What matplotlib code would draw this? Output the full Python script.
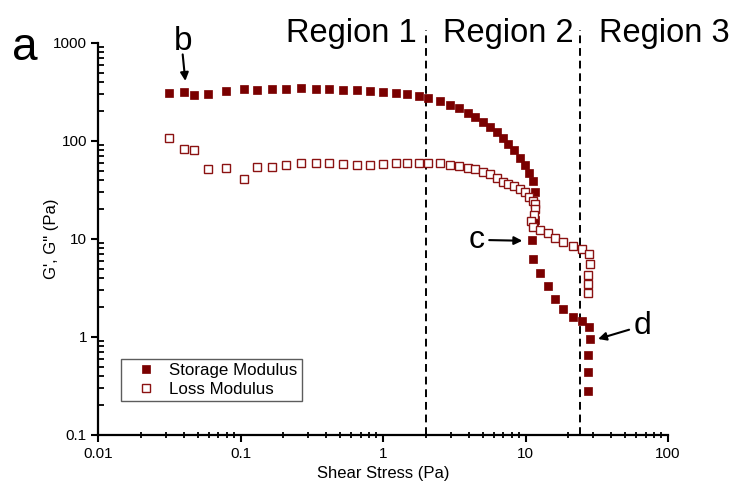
import matplotlib
matplotlib.use('Agg')
import matplotlib.pyplot as plt
from matplotlib.ticker import LogLocator, NullFormatter, FixedFormatter, FixedLocator

plt.rcParams['font.family'] = ['Liberation Sans', 'DejaVu Sans']

# storage modulus G' (filled squares)
stress_storage = [0.0315, 0.0403, 0.0472, 0.059, 0.0795, 0.105, 0.130, 0.166, 0.209, 0.267,
                  0.337, 0.418, 0.521, 0.654, 0.810, 1.005, 1.23, 1.48, 1.78, 2.08,
                  2.51, 2.94, 3.41, 3.93, 4.44, 5.01, 5.64, 6.28, 6.92, 7.57,
                  8.30, 9.10, 9.91, 10.5, 11.3, 11.7, 11.7, 11.4, 11.05, 11.35,
                  12.6, 14.3, 16.1, 18.4, 21.4, 24.8, 27.9, 28.2, 27.6, 27.5, 27.6]
storage = [307, 318, 294, 302, 321, 340, 334, 340, 340, 345,
           340, 340, 334, 329, 324, 318, 311, 302, 288, 273,
           256, 235, 216, 195, 175, 156, 138, 123, 107, 93,
           80, 67.6, 57.3, 47.5, 39.1, 30.4, 15.6, 13.9, 9.77, 6.3,
           4.47, 3.29, 2.43, 1.92, 1.61, 1.46, 1.27, 0.955, 0.66, 0.44, 0.283]

# loss modulus G'' (open squares)
stress_loss = [0.0315, 0.0403, 0.0472, 0.059, 0.0795, 0.105, 0.130, 0.166, 0.209, 0.267,
               0.337, 0.418, 0.521, 0.654, 0.810, 1.005, 1.23, 1.48, 1.78, 2.08,
               2.51, 2.94, 3.41, 3.93, 4.44, 5.01, 5.64, 6.28, 6.92, 7.57,
               8.30, 9.10, 9.91, 10.5, 11.3, 11.7, 11.6, 11.4, 11.0, 11.3,
               12.6, 14.3, 16.1, 18.4, 21.4, 24.9, 27.7, 28.2, 27.5, 27.4, 27.6]
loss = [107, 82.3, 80.4, 51.4, 53.4, 41.0, 54.3, 53.9, 56.9, 59.2,
        59.7, 59.2, 58.2, 57.3, 56.9, 58.7, 59.2, 59.2, 59.7, 60.1,
        59.2, 57.3, 55.6, 53.4, 51.8, 48.6, 45.7, 41.6, 38.2, 36.7,
        35.0, 32.6, 30.0, 26.7, 24.3, 22.9, 20.1, 17.5, 15.1, 13.3,
        12.4, 11.4, 10.2, 9.31, 8.55, 7.94, 7.00, 5.62, 4.32, 3.47, 2.83]

region_bounds = [2.0, 24.0]
region_labels = ['Region 1', 'Region 2', 'Region 3']
region_label_x = [351, 508, 664]  # pixel centres

xticks = [0.01, 0.1, 1, 10, 100]
xtick_labels = ['0.01', '0.1', '1', '10', '100']
yticks = [0.1, 1, 10, 100, 1000]
ytick_labels = ['0.1', '1', '10', '100', '1000']

W, H = 735, 491
fig = plt.figure(figsize=(W / 100, H / 100), dpi=100)
ax = fig.add_axes([98 / W, 1 - 435 / H, (668 - 98) / W, (435 - 43) / H])

red = '#7a0000'
ax.plot(stress_storage, storage, 's', ms=6.0, color=red, mec=red, mew=0.5,
        label='Storage Modulus', zorder=3)
ax.plot(stress_loss, loss, 's', ms=5.6, mfc='white', mec='#8b1212', mew=1.0,
        label='Loss Modulus', zorder=4)

ax.set_xscale('log')
ax.set_yscale('log')
ax.set_xlim(0.01, 100)
ax.set_ylim(0.1, 1000)

ax.xaxis.set_major_locator(FixedLocator(xticks))
ax.xaxis.set_major_formatter(FixedFormatter(xtick_labels))
ax.yaxis.set_major_locator(FixedLocator(yticks))
ax.yaxis.set_major_formatter(FixedFormatter(ytick_labels))
ax.xaxis.set_minor_locator(LogLocator(base=10, subs=range(2, 10), numticks=20))
ax.yaxis.set_minor_locator(LogLocator(base=10, subs=range(2, 10), numticks=20))
ax.xaxis.set_minor_formatter(NullFormatter())
ax.yaxis.set_minor_formatter(NullFormatter())

for s in ['top', 'right']:
    ax.spines[s].set_visible(False)
for s in ['left', 'bottom']:
    ax.spines[s].set_linewidth(1.6)

ax.tick_params(axis='x', which='major', direction='out', length=5, width=1.5, labelsize=11, pad=4)
ax.tick_params(axis='x', which='minor', direction='inout', length=5, width=1.3)
ax.tick_params(axis='y', which='major', direction='out', length=5, width=1.5, labelsize=11, pad=3)
ax.tick_params(axis='y', which='minor', direction='in', length=4, width=1.3)

ax.set_xlabel('Shear Stress (Pa)', fontsize=12, labelpad=3)
ax.set_ylabel('G\', G" (Pa)', fontsize=12)
ax.yaxis.set_label_coords(-0.068, 0.5)

# dashed boundaries between regions, running up past the top of the axes
for xb in region_bounds:
    ax.axvline(xb, ymin=0, ymax=1.033, color='black', ls=(0, (4, 2.5)), lw=1.4,
               clip_on=False, zorder=2)

for lab, px in zip(region_labels, region_label_x):
    fig.text(px / W, 1 - 42 / H, lab, fontsize=23.5, ha='center', va='baseline')

fig.text(12 / W, 1 - 60 / H, 'a', fontsize=33, ha='left', va='baseline')

# annotations b, c, d
arrow = dict(arrowstyle='-|>', color='black', lw=1.5, mutation_scale=12,
             shrinkA=1, shrinkB=0)
ax.text(0.0395, 850, 'b', fontsize=24, ha='center', va='baseline', clip_on=False)
ax.annotate('', xy=(0.0410, 410), xytext=(0.0392, 790), arrowprops=arrow,
            annotation_clip=False)
ax.annotate('c', xy=(9.5, 9.6), xytext=(5.2, 9.8), fontsize=23,
            ha='right', va='center', arrowprops=arrow)
ax.annotate('d', xy=(32.3, 0.955), xytext=(57, 1.3), fontsize=23,
            ha='left', va='center', arrowprops=arrow)

leg = ax.legend(loc='upper left', bbox_to_anchor=((121 - 98) / (668 - 98), 1 - (359 - 43) / 392),
                fontsize=12.2, frameon=True, fancybox=False, borderpad=0.25,
                handletextpad=0.15, labelspacing=0.2, handlelength=2.45, borderaxespad=0)
leg.get_frame().set_edgecolor('#333333')
leg.get_frame().set_linewidth(1.0)
for h in leg.legend_handles:
    h.set_markersize(6)

fig.savefig('out.png', dpi=100)
